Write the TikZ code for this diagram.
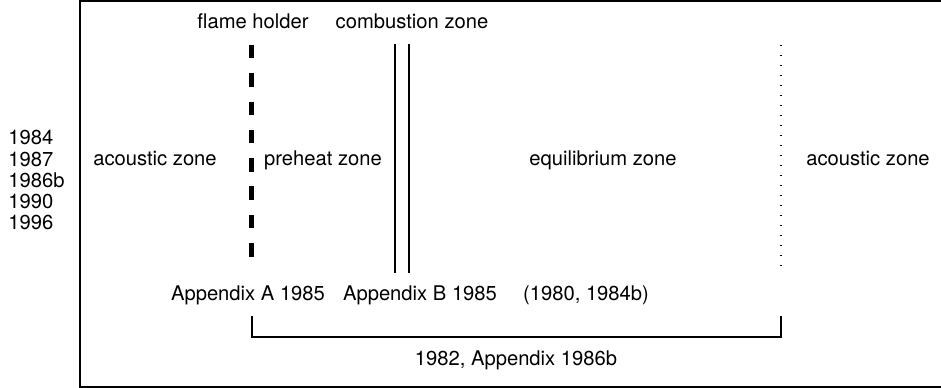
\documentclass[tikz,border=0pt]{standalone}
\usepackage{fontspec}
\setmainfont{TeX Gyre Heros}
\usetikzlibrary{positioning}

\tikzset{
    lbl/.style={font=\fontsize{11.5}{12}\selectfont, inner sep=0pt, anchor=base},
    frame/.style={line width=1pt},
    holder/.style={line width=2.6pt, dash pattern=on 0.27cm off 0.296cm},
    flamefront/.style={line width=0.75pt},
    edgeeq/.style={line width=0.6pt, dash pattern=on 0.02cm off 0.18cm},
    brace/.style={line width=0.7pt}
}

\begin{document}
\begin{tikzpicture}[x=0.02cm, y=-0.02cm]
    \useasboundingbox (0,0) rectangle (941,388);

    % outer frame, open on the right
    \coordinate (FTR) at (950,1);
    \coordinate (FTL) at (80,1);
    \coordinate (FBL) at (80,387);
    \coordinate (FBR) at (950,387);
    \draw[frame] (FTR) -- (FTL) -- (FBL) -- (FBR);

    % years
    \foreach \yr [count=\i] in {1984,1987,1986b,1990,1996}
        \node[lbl, anchor=base west] (yr\i) at (8,{145+21.25*(\i-1)}) {\yr};

    % top labels
    \node[lbl] (FH) at (253,29) {flame holder};
    \node[lbl] (CZ) at (412,29) {combustion zone};

    % zones
    \node[lbl] (AZL) at (155,166) {acoustic zone};
    \node[lbl] (PZ) at (323,166) {preheat zone};
    \node[lbl] (EZ) at (603,166) {equilibrium zone};
    \node[lbl] (AZR) at (868,166) {acoustic zone};

    % bottom labels
    \node[lbl] (APA) at (248,301) {Appendix A 1985};
    \node[lbl] (APB) at (420,301) {Appendix B 1985};
    \node[lbl] (REF) at (586,301) {(1980, 1984b)};
    \node[lbl] (SPAN) at (516,366) {1982, Appendix 1986b};

    % flame holder
    \coordinate (HT) at (251.5,45);
    \coordinate (HB) at (251.5,258);
    \draw[holder] (HT) -- (HB);

    % combustion zone
    \coordinate (C1T) at (395,44);
    \coordinate (C1B) at (395,273);
    \coordinate (C2T) at (409,44);
    \coordinate (C2B) at (409,273);
    \draw[flamefront] (C1T) -- (C1B);
    \draw[flamefront] (C2T) -- (C2B);

    % end of equilibrium zone
    \coordinate (ET) at (781,45.5);
    \coordinate (EB) at (781,268);
    \draw[edgeeq] (ET) -- (EB);

    % span bracket
    \coordinate (BL) at (252,316);
    \coordinate (BR) at (781,316);
    \draw[brace] (BL) -- (252,337) -- (781,337) -- (BR);
\end{tikzpicture}
\end{document}
